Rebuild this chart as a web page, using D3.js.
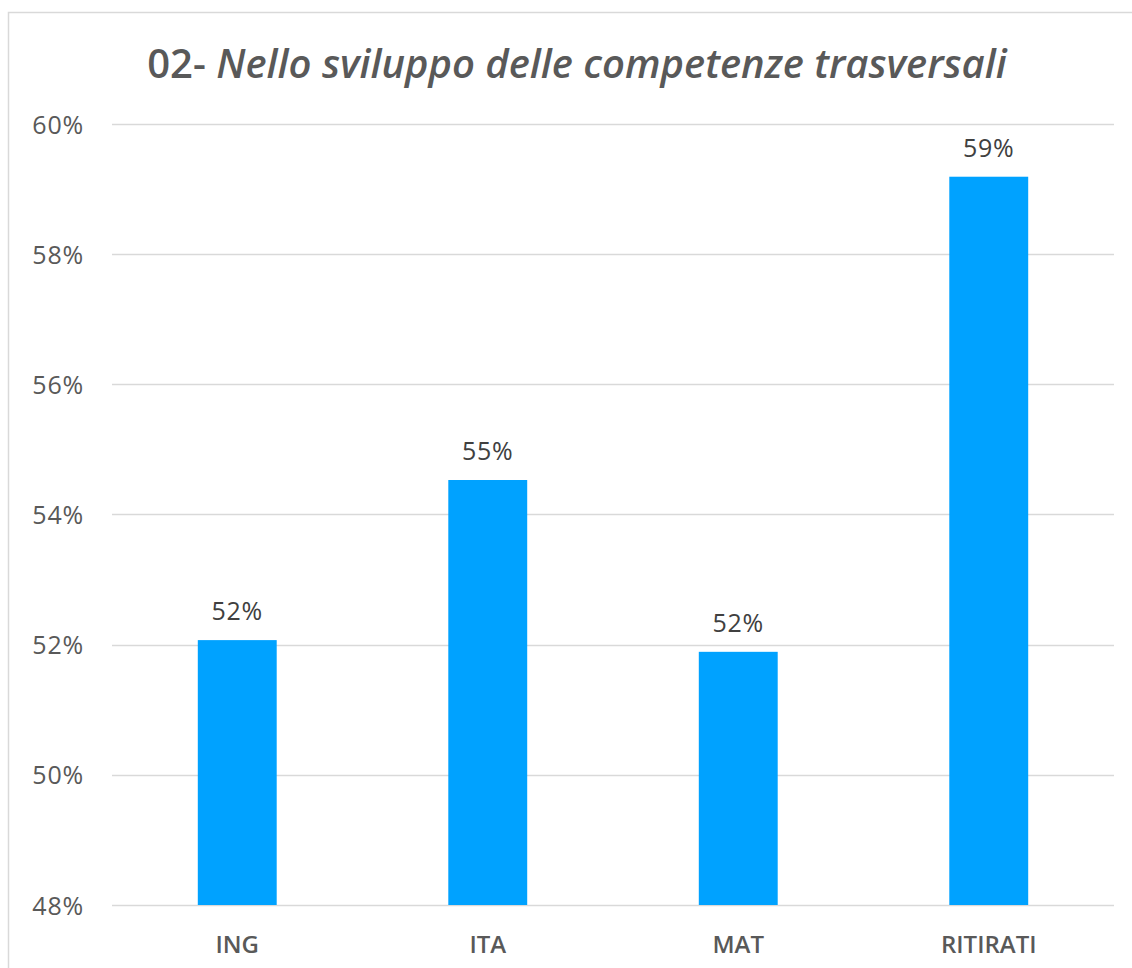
<!DOCTYPE html>
<html>
<head>
<meta charset="utf-8">
<script src="https://cdn.jsdelivr.net/npm/d3@7"></script>
<style>
  html, body { margin: 0; padding: 0; background: #fff; }
  svg { display: block; }
  text { font-family: "Open Sans", "DejaVu Sans", sans-serif; }
</style>
</head>
<body>
<svg id="chart" width="1132" height="968"></svg>
<script>
// Share of students reporting progress, by group
const categories = ["ING", "ITA", "MAT", "RITIRATI"];
const values = [0.5207, 0.5453, 0.5189, 0.5919];
const valueLabels = ["52%", "55%", "52%", "59%"];
const yTicks = [0.48, 0.50, 0.52, 0.54, 0.56, 0.58, 0.60];
const titlePrefix = "02- ";
const titleText = "Nello sviluppo delle competenze trasversali";

const svg = d3.select("#chart");
const W = 1132, H = 968;
const plot = { left: 112, right: 1114, top: 124, bottom: 905 };

// outer chart frame
svg.append("rect")
  .attr("x", 8.5).attr("y", 12.5)
  .attr("width", W + 20).attr("height", H + 20)
  .attr("fill", "#fff").attr("stroke", "#d9d9d9").attr("stroke-width", 1.5);

const x = d3.scaleBand()
  .domain(categories)
  .range([plot.left, plot.right])
  .paddingInner(0.685)
  .paddingOuter(0.3425);

const y = d3.scaleLinear()
  .domain([0.48, 0.60])
  .range([plot.bottom, plot.top]);

// horizontal gridlines
svg.append("g")
  .selectAll("line")
  .data(yTicks)
  .join("line")
  .attr("x1", plot.left).attr("x2", plot.right)
  .attr("y1", d => Math.round(y(d)) + 0.5)
  .attr("y2", d => Math.round(y(d)) + 0.5)
  .attr("stroke", "#d9d9d9").attr("stroke-width", 1.5);

// y axis labels
const yAxis = d3.axisLeft(y)
  .tickValues(yTicks)
  .tickFormat(d3.format(".0%"))
  .tickSize(0)
  .tickPadding(0);
const gy = svg.append("g")
  .attr("transform", `translate(84,0)`)
  .call(yAxis);
gy.select(".domain").remove();
gy.selectAll("text")
  .attr("fill", "#595959")
  .attr("font-size", 25)
  .attr("font-weight", 500)
  .attr("letter-spacing", 0.8)
  .attr("dy", "0.36em");

// bars
svg.append("g")
  .selectAll("rect")
  .data(categories)
  .join("rect")
  .attr("x", d => x(d))
  .attr("width", x.bandwidth())
  .attr("y", (d, i) => y(values[i]))
  .attr("height", (d, i) => y(0.48) - y(values[i]))
  .attr("fill", "#00a2ff");

// value labels
svg.append("g")
  .selectAll("text")
  .data(categories)
  .join("text")
  .attr("x", d => x(d) + x.bandwidth() / 2)
  .attr("y", (d, i) => y(values[i]) - 20)
  .attr("text-anchor", "middle")
  .attr("fill", "#404040")
  .attr("font-size", 25)
  .attr("font-weight", 500)
  .attr("letter-spacing", 0.8)
  .text((d, i) => valueLabels[i]);

// x axis labels
const xAxis = d3.axisBottom(x).tickSize(0).tickPadding(0);
const gx = svg.append("g")
  .attr("transform", `translate(0,${plot.bottom})`)
  .call(xAxis);
gx.select(".domain").remove();
gx.selectAll("text")
  .attr("fill", "#595959")
  .attr("font-size", 24)
  .attr("font-weight", 600)
  .attr("dy", "0")
  .attr("y", 48);

// title
const title = svg.append("text")
  .attr("x", 577)
  .attr("y", 78)
  .attr("text-anchor", "middle")
  .attr("fill", "#595959")
  .attr("font-size", 40)
  .attr("font-weight", 600);
title.append("tspan").text(titlePrefix);
title.append("tspan").attr("font-style", "italic").text(titleText);
</script>
</body>
</html>
